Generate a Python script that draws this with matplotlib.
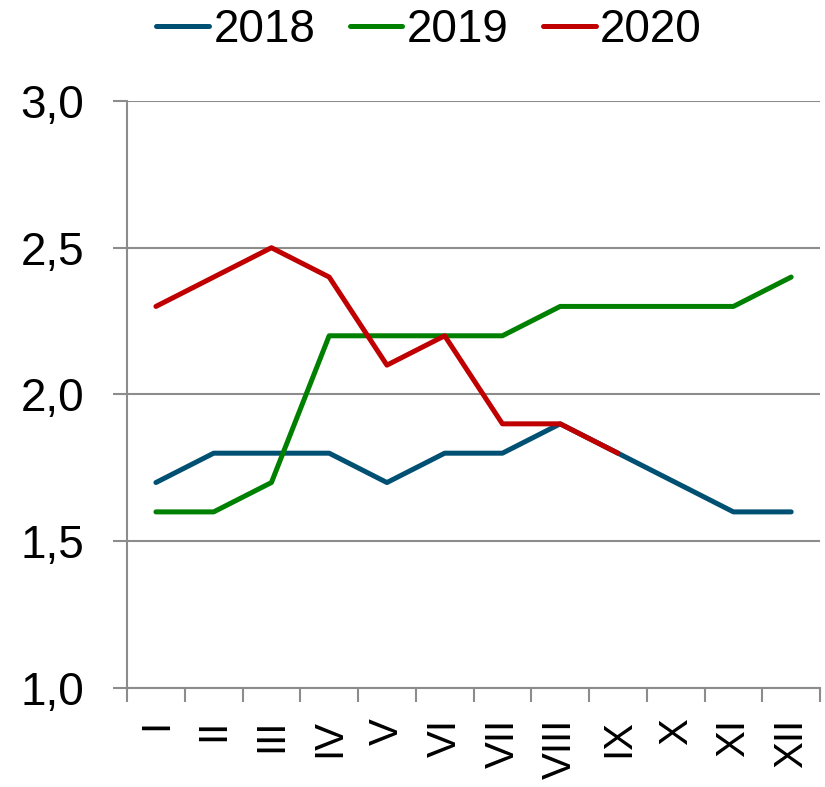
import numpy as np
import matplotlib
matplotlib.use('Agg')
import matplotlib.pyplot as plt

plt.rcParams['font.family'] = ['Liberation Sans', 'DejaVu Sans']

meses = ['I', 'II', 'III', 'IV', 'V', 'VI', 'VII', 'VIII', 'IX', 'X', 'XI', 'XII']
serie_2018 = [1.7, 1.8, 1.8, 1.8, 1.7, 1.8, 1.8, 1.9, 1.8, 1.7, 1.6, 1.6]
serie_2019 = [1.6, 1.6, 1.7, 2.2, 2.2, 2.2, 2.2, 2.3, 2.3, 2.3, 2.3, 2.4]
serie_2020 = [2.3, 2.4, 2.5, 2.4, 2.1, 2.2, 1.9, 1.9, 1.8]
y_ticks = [1.0, 1.5, 2.0, 2.5, 3.0]

gris = '#8c8c8c'

fig = plt.figure(figsize=(8.25, 7.87), dpi=100)
ax = fig.add_axes([0.154, 0.1258, 0.84, 0.7459])

x = np.arange(len(meses))
ax.plot(x, serie_2018, color='#005073', lw=3.6, label='2018', solid_capstyle='round')
ax.plot(x, serie_2019, color='#008000', lw=3.6, label='2019', solid_capstyle='round')
ax.plot(x[:len(serie_2020)], serie_2020, color='#c00000', lw=3.6, label='2020',
        solid_capstyle='round')

ax.set_xlim(-0.5, len(meses) - 0.5)
ax.set_ylim(1.0, 3.0)
ax.set_yticks(y_ticks)
ax.set_yticklabels([f'{v:.1f}'.replace('.', ',') for v in y_ticks], fontsize=33)
ax.grid(True, axis='y', color=gris, lw=1.5)
ax.set_axisbelow(True)

ax.set_xticks(x)
ax.set_xticklabels(meses, rotation=90, fontsize=29)
ax.set_xticks(np.arange(len(meses) + 1) - 0.5, minor=True)
ax.tick_params(axis='x', which='major', length=0, pad=22)
ax.tick_params(axis='x', which='minor', length=10, width=1.5, color=gris)
ax.tick_params(axis='y', length=10, width=1.5, color=gris, pad=21)

for lado in ['top', 'right']:
    ax.spines[lado].set_visible(False)
for lado in ['left', 'bottom']:
    ax.spines[lado].set_color(gris)
    ax.spines[lado].set_linewidth(1.5)

fig.legend(loc='center', bbox_to_anchor=(0.52, 0.962), ncol=3, frameon=False,
           fontsize=33, handlelength=1.15, handletextpad=0.1, columnspacing=0.75)

fig.savefig('out.png', dpi=100)
